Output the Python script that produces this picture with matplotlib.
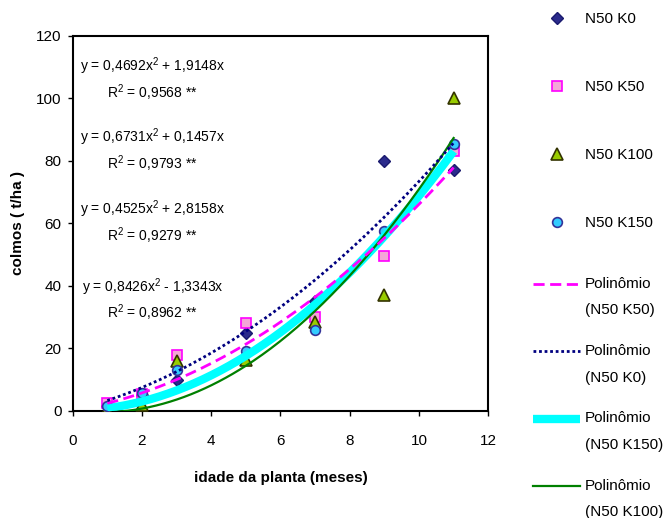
import numpy as np
import matplotlib
matplotlib.use('Agg')
import matplotlib.pyplot as plt
from matplotlib.legend_handler import HandlerLine2D

plt.rcParams['font.family'] = ['Liberation Sans', 'DejaVu Sans']
plt.rcParams['mathtext.fontset'] = 'custom'
plt.rcParams['mathtext.rm'] = 'Liberation Sans'
plt.rcParams['mathtext.it'] = 'Liberation Sans'

# idade da planta (meses)
meses = [1, 2, 3, 5, 7, 9, 11]

# colmos (t/ha)
k0 = [1.5, 5, 10, 25, 35, 80, 77]
k50 = [2.5, 5.5, 18, 28, 30, 49.5, 83]
k100 = [0.3, 2, 16, 16.3, 28.5, 37, 100]
k150 = [1.5, 5.7, 13, 19, 26, 57.5, 85.5]

# coeficientes das linhas de tendencia (a*x^2 + b*x)
coef_k50 = [0.4692, 1.9148]
coef_k150 = [0.6731, 0.1457]
coef_k0 = [0.4525, 2.8158]
coef_k100 = [0.8426, -1.3343]

equacoes = ['y = 0,4692x$^2$ + 1,9148x', 'R$^2$ = 0,9568 **',
            'y = 0,6731x$^2$ + 0,1457x', 'R$^2$ = 0,9793 **',
            'y = 0,4525x$^2$ + 2,8158x', 'R$^2$ = 0,9279 **',
            'y = 0,8426x$^2$ - 1,3343x', 'R$^2$ = 0,8962 **']
eq_y = [110.1, 101.8, 87.4, 79.0, 64.6, 56.0, 39.7, 31.4]


# linha da legenda alinhada com a primeira linha do texto
class LinhaTopo(HandlerLine2D):
    def create_artists(self, legend, orig_handle, xdescent, ydescent,
                       width, height, fontsize, trans):
        return super().create_artists(legend, orig_handle, xdescent, ydescent - 18.7,
                                      width, height, fontsize, trans)


fig = plt.figure(figsize=(6.67, 5.18), dpi=100)
ax = fig.add_axes([0.109, 0.207, 0.623, 0.724])

# pontos
p0, = ax.plot(meses, k0, 'D', ms=6, mfc='#2B2B8C', mec='#1A1A6E', zorder=3, label='N50 K0')
p50, = ax.plot(meses, k50, 's', ms=7, mfc='#F4A6D7', mec='#FF00FF', mew=1.2, zorder=3, label='N50 K50')
p100, = ax.plot(meses, k100, '^', ms=8, mfc='#99CC00', mec='#333300', mew=1.2, zorder=3, label='N50 K100')
p150, = ax.plot(meses, k150, 'o', ms=7, mfc='#33CCFF', mec='#333399', mew=1.2, zorder=3, label='N50 K150')

# linhas de tendencia
xs = np.linspace(1, 11, 200)
def poli(c):
    return c[0] * xs ** 2 + c[1] * xs

l150, = ax.plot(xs, poli(coef_k150), '-', color='#00FFFF', lw=6, zorder=4,
                label='Polinômio\n(N50 K150)', solid_capstyle='butt')
l100, = ax.plot(xs, poli(coef_k100), '-', color='#008000', lw=1.6, zorder=5,
                label='Polinômio\n(N50 K100)')
l50, = ax.plot(xs, poli(coef_k50), color='#FF00FF', lw=2, dashes=(4, 2), zorder=6,
               label='Polinômio\n(N50 K50)')
l0, = ax.plot(xs, poli(coef_k0), color='#000080', lw=2, dashes=(1, 1), zorder=7,
              label='Polinômio\n(N50 K0)')

for txt, yy in zip(equacoes, eq_y):
    ax.text(2.3, yy, txt, ha='center', va='center', fontsize=10)

ax.set_xlim(0, 12)
ax.set_ylim(0, 120)
ax.set_xticks(range(0, 13, 2))
ax.set_yticks(range(0, 121, 20))
ax.tick_params(axis='x', direction='out', length=3.6, width=1, pad=13.4, labelsize=11)
ax.tick_params(axis='y', direction='out', length=3.6, width=1, pad=4.5, labelsize=11)
for s in ax.spines.values():
    s.set_linewidth(1.5)

ax.set_xlabel('idade da planta (meses)', fontsize=11, fontweight='bold', labelpad=16)
ax.set_ylabel('colmos ( t/ha )', fontsize=11, fontweight='bold', labelpad=8)

leg1 = fig.legend(handles=[p0, p50, p100, p150], loc='upper left',
                  bbox_to_anchor=(0.799, 0.976), frameon=False, fontsize=11,
                  handlelength=3.1, handletextpad=0.3, labelspacing=3.53,
                  borderpad=0, borderaxespad=0)
leg2 = fig.legend(handles=[l50, l0, l150, l100], loc='upper left',
                  bbox_to_anchor=(0.799, 0.466), frameon=False, fontsize=11,
                  handlelength=3.1, handletextpad=0.3, labelspacing=1.75,
                  borderpad=0, borderaxespad=0,
                  handler_map={l50: LinhaTopo(), l0: LinhaTopo(),
                               l150: LinhaTopo(), l100: LinhaTopo()})
for t in leg2.get_texts():
    t.set_linespacing(2.15)

fig.savefig('out.png', dpi=100)
